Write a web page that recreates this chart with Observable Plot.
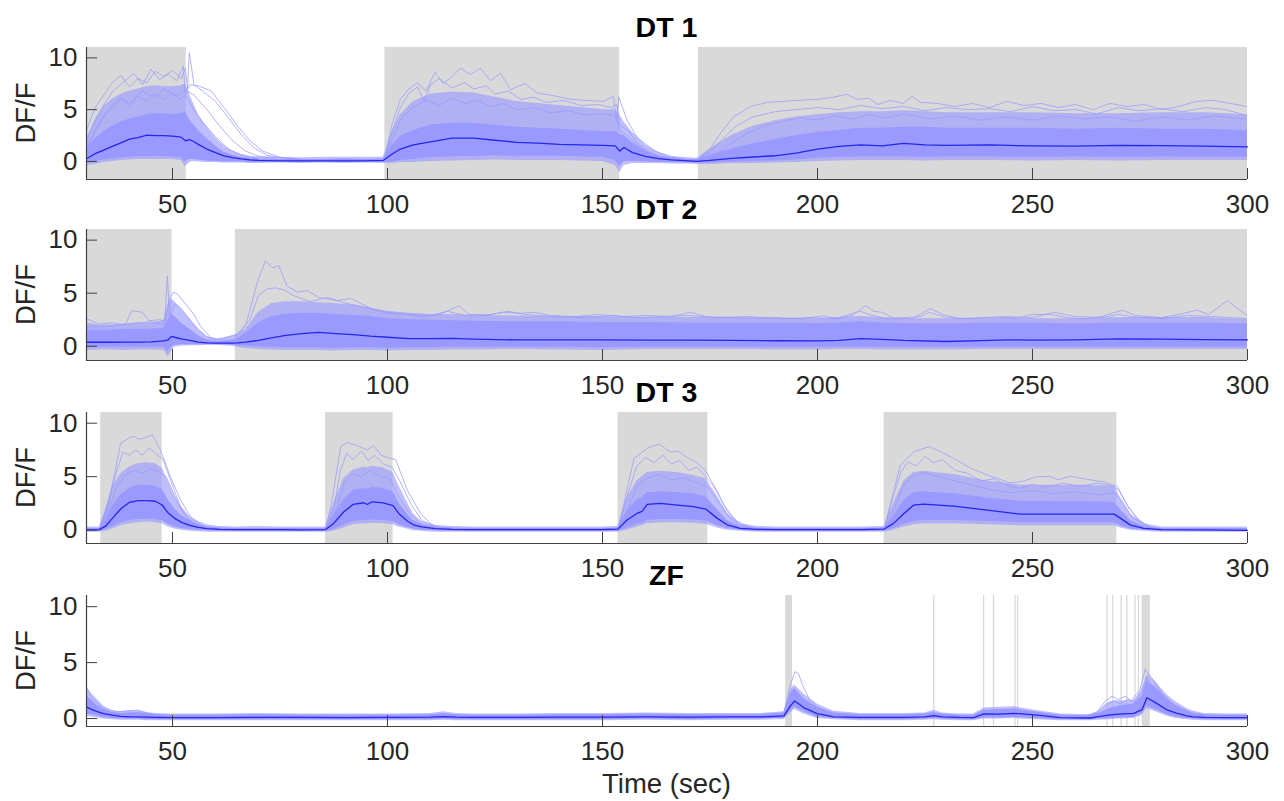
<!DOCTYPE html>
<html><head><meta charset="utf-8">
<script src="https://cdn.jsdelivr.net/npm/d3@7"></script>
<script src="https://cdn.jsdelivr.net/npm/@observablehq/plot@0.6"></script>
<style>
html,body{margin:0;padding:0;background:#fff;}
#chart{position:relative;width:1284px;height:801px;overflow:hidden;background:#fff;}
#chart svg{position:absolute;left:0;}
</style></head><body><div id="chart"></div>
<script>
// ---------------- DATA ----------------
const xTicks = [50, 100, 150, 200, 250, 300];
const yTicks = [0, 5, 10];
const titles = ["DT 1", "DT 2", "DT 3", "ZF"];
const yLabel = "DF/F";
const xLabel = "Time (sec)";

// y ranges of the four panels
const yDomain1 = [-1.74, 11];
const yDomain2 = [-1.34, 11];
const yDomain3 = [-1.25, 11];
const yDomain4 = [-0.71, 11];

// shaded stimulus periods [start, end] (sec)
const shade1 = [[30, 53.2], [99.4, 154], [172.3, 300]];
const shade2 = [[30, 49.9], [64.6, 300]];
const shade3 = [[33.3, 47.6], [85.6, 101.3], [153.6, 174.5], [215.5, 269.6]];
const shade4 = [[192.6, 194.2], [227.0, 227.3], [238.6, 238.9], [240.9, 241.2], [245.9, 246.2], [246.5, 246.8],
                [267.3, 267.6], [268.6, 268.9], [270.6, 270.9], [271.9, 272.2], [273.8, 274.1], [274.6, 274.9], [275.5, 277.4]];

// ---- DT 1 ----
const t1 = [30,32,34,36,38,40,42,44,46,48, 50,52,53,54,55,56,58,60,62,64, 66,68,70,75,80,85,90,95,99,101,
  103,106,110,115,120,125,130,135,140,145, 150,153,154,155,157,160,163,166,170,172, 175,180,185,190,195,200,205,210,215,220,
  225,230,240,250,260,270,280,290,300];
const mean1 = [0.26,0.75,1.1,1.45,1.8,2.15,2.3,2.55,2.5,2.5, 2.45,2.35,2.0,2.1,1.9,1.65,1.2,0.85,0.55,0.37,
  0.25,0.16,0.1,0.06,0.05,0.05,0.06,0.05,0.1,0.7, 1.2,1.6,1.9,2.25,2.25,2.05,1.85,1.77,1.65,1.6,
  1.55,1.5,1.0,1.35,0.85,0.5,0.27,0.15,0.05,0.0, 0.1,0.3,0.43,0.55,0.8,1.2,1.45,1.6,1.5,1.75, 1.6,1.55,1.6,1.5,1.48,1.55,1.52,1.48,1.4];
const fLo1 = [-0.4,-0.3,-0.1,0,0.1,0.15,0.2,0.2,0.2,0.2, 0.2,0.1,-0.5,-0.1,0,-0.05,-0.1,-0.1,-0.15,-0.15,
  -0.15,-0.2,-0.2,-0.15,-0.2,-0.15,-0.2,-0.15,-0.2,-0.2, -0.1,-0.1,0,0.05,0.1,0.15,0.1,0.1,0.1,0.05,
  0,-0.4,-1.1,-0.4,-0.2,-0.2,-0.2,-0.25,-0.25,-0.3, -0.3,-0.2,-0.2,-0.15,-0.1,0,0.05,0.1,0.1,0.1, 0.05,0.1,0.1,0.05,0.1,0.05,0.1,0.1,0.1];
const cLo1 = [-0.2,0,0.15,0.25,0.35,0.4,0.45,0.45,0.5,0.45, 0.45,0.35,0,0.2,0.2,0.15,0.05,0,-0.05,-0.05,
  -0.05,-0.1,-0.1,-0.05,-0.1,-0.05,-0.1,-0.05,-0.1,-0.05, 0.1,0.2,0.35,0.45,0.5,0.55,0.5,0.5,0.5,0.45,
  0.4,0.1,-0.5,0,0,-0.05,-0.1,-0.1,-0.15,-0.15, -0.15,-0.05,0,0.05,0.15,0.3,0.4,0.45,0.45,0.45, 0.4,0.45,0.45,0.4,0.45,0.4,0.45,0.4,0.4];
const cHi1 = [1.2,2.2,2.9,3.4,3.8,4.1,4.3,4.5,4.6,4.6, 4.5,4.6,4.8,4.0,3.5,3.0,2.2,1.5,0.9,0.6,
  0.4,0.3,0.25,0.2,0.2,0.2,0.25,0.2,0.25,1.5, 2.4,3.0,3.5,3.7,3.7,3.5,3.3,3.2,3.1,3.0,
  2.9,2.9,2.6,2.5,1.8,1.0,0.5,0.3,0.2,0.2, 0.6,1.2,1.7,2.1,2.5,2.8,3.0,3.2,3.2,3.3, 3.3,3.2,3.2,3.2,3.1,3.2,3.1,3.1,3.0];
const fHi1 = [2.2,4.0,5.3,6.0,6.5,6.8,7.0,7.2,7.3,7.2, 7.2,7.3,7.5,6.5,5.5,4.5,3.3,2.3,1.5,1.0,
  0.7,0.5,0.45,0.4,0.35,0.4,0.4,0.4,0.4,2.8, 4.5,5.8,6.5,6.7,6.6,6.2,5.8,5.6,5.4,5.2,
  5.0,5.0,4.5,3.8,2.8,1.6,0.9,0.5,0.35,0.3, 1.2,2.5,3.4,3.9,4.3,4.5,4.7,4.8,4.8,4.9, 4.8,4.7,4.7,4.7,4.6,4.6,4.7,4.7,4.5];
const traces1 = [
  [[30,3.0],[32,5.2],[34,6.4],[36,7.6],[38,8.3],[40,7.2],[42,8.0],[44,7.6],[46,8.7],[48,8.2],[50,8.8],[52,8.0],[53,9.0],[53.5,7.0],[53.9,10.5],[55,7.4],[57,6.8],[60,5.8],[63,4.2],[66,2.6],[69,1.3],[72,0.6],[76,0.3],[80,0.2]],
  [[30,2.0],[33,4.8],[36,6.7],[39,7.8],[41,8.5],[43,7.4],[45,8.9],[47,7.9],[49,8.4],[51,7.8],[52.5,9.2],[53,6.5],[54,7.4],[56,7.3],[59,6.8],[62,5.2],[65,3.5],[68,2.0],[71,1.0],[75,0.4],[80,0.2]],
  [[30,1.5],[33,3.6],[36,5.5],[38,6.2],[40,5.6],[43,6.8],[46,6.1],[48,7.0],[51,6.3],[53,6.9],[55,6.4],[58,5.0],[61,3.4],[64,2.0],[67,1.0],[70,0.5],[74,0.3]],
  [[30,1.0],[32,3.0],[34,4.5],[36,5.2],[38,6.0],[40,5.4],[42,6.3],[44,5.8],[46,6.6],[48,6.0],[50,6.5],[52,6.0],[53,6.4],[55,5.0],[57,3.8],[60,2.4],[63,1.2],[66,0.6],[70,0.3]],
  [[99.4,0.2],[101,3.5],[103,6.0],[105,7.0],[107,7.6],[109,6.8],[111,8.6],[113,7.5],[114.7,8.1],[117,9.0],[119.3,8.4],[121.6,9.0],[124,7.8],[126.3,8.5],[128.6,6.9],[130,7.2],[132.1,7.5],[134.8,6.6],[138,6.4],[142.6,6.0],[146,5.9],[150.3,5.8],[152.5,6.3],[153.3,4.0],[153.8,6.2],[155.7,4.0],[158,2.35],[161.9,1.06],[165.8,0.42],[170,0.15]],
  [[99.4,0.2],[101,2.8],[103,5.2],[105,6.6],[107,7.2],[108.5,5.8],[110,7.4],[112,8.0],[115,7.1],[118,7.6],[120,7.0],[123,7.3],[125,6.5],[128,6.8],[131,6.0],[134,6.2],[137,5.7],[141,5.9],[145,5.4],[149,5.5],[152,5.2],[153.3,5.5],[154,3.5],[156,3.0],[158,1.8],[161,0.9],[164,0.4]],
  [[99.4,0.2],[101,2.0],[103,4.0],[106,5.3],[109,5.9],[112,5.4],[115,6.1],[118,5.6],[121,5.9],[124,5.3],[127,5.6],[130,5.0],[134,5.2],[138,4.7],[142,4.9],[146,4.5],[150,4.6],[153,4.4],[154,3.0],[156,2.4],[159,1.3],[162,0.6],[166,0.3]],
  [[172.3,0.2],[175,1.2],[177.4,2.7],[180.5,4.3],[184.4,5.3],[188.3,5.7],[192,5.8],[196,5.9],[200,6.0],[203.7,6.2],[206.9,6.5],[209,6.0],[212,6.1],[214,5.5],[217,5.9],[220,5.6],[222,6.3],[224,5.7],[228,5.6],[232,5.3],[236,5.6],[240,5.2],[244,5.8],[248,5.4],[252,5.6],[256,5.2],[260,5.5],[264,5.0],[268,5.6],[272,5.3],[276,5.5],[280,5.0],[284,5.3],[288,5.8],[292,5.9],[296,5.6],[300,5.3]],
  [[172.3,0.2],[175,0.9],[178,2.2],[181,3.4],[185,4.3],[190,4.8],[195,5.0],[200,5.2],[205,5.0],[210,5.4],[215,5.1],[220,5.3],[225,4.9],[230,5.2],[235,5.0],[240,5.1],[245,4.8],[250,5.3],[255,4.9],[260,5.0],[265,4.6],[270,5.2],[275,4.9],[280,5.1],[285,4.8],[290,5.2],[295,5.0],[300,4.4]],
  [[172.3,0.2],[176,0.6],[180,1.8],[184,2.8],[188,3.5],[192,3.9],[196,4.2],[200,4.0],[204,4.4],[208,4.1],[212,4.5],[216,4.2],[220,4.6],[226,4.1],[232,4.4],[238,4.0],[244,4.3],[250,4.0],[256,4.4],[262,4.1],[268,4.3],[274,3.9],[280,4.3],[286,4.0],[292,4.4],[300,4.1]]
];

// ---- DT 2 ----
const t2 = [30,33,36,39,42,45,48,49,49.7,50.5, 52,54,56,58,60,62,64,65,67,70, 73,76,80,84,88,92,96,100,105,110,
  115,120,130,140,150,160,170,180,190,200, 205,210,215,220,230,240,245,250,260,270, 280,290,300];
const mean2 = [0.38,0.38,0.38,0.4,0.4,0.42,0.5,0.6,0.94,0.85, 0.7,0.55,0.4,0.32,0.3,0.3,0.3,0.32,0.4,0.55,
  0.8,1.0,1.2,1.3,1.2,1.1,0.95,0.85,0.73,0.72, 0.74,0.68,0.6,0.6,0.6,0.58,0.58,0.55,0.52,0.5,
  0.55,0.72,0.65,0.55,0.45,0.55,0.6,0.58,0.6,0.7, 0.68,0.62,0.6];
const fLo2 = [-0.4,-0.35,-0.35,-0.4,-0.35,-0.35,-0.4,-1.0,-0.5,-0.1, 0,0.05,0.05,0.1,0.1,0.05,0,-0.1,-0.2,-0.3,
  -0.35,-0.4,-0.4,-0.4,-0.45,-0.4,-0.4,-0.45,-0.4,-0.4, -0.35,-0.35,-0.3,-0.35,-0.4,-0.3,-0.3,-0.3,-0.35,-0.35,
  -0.3,-0.3,-0.35,-0.35,-0.35,-0.3,-0.3,-0.3,-0.3,-0.3, -0.3,-0.3,-0.3];
const cLo2 = [-0.15,-0.1,-0.1,-0.1,-0.1,-0.1,-0.1,-0.5,-0.1,0.1, 0.15,0.15,0.15,0.15,0.15,0.15,0.1,0.05,0,-0.05,
  -0.1,-0.15,-0.15,-0.15,-0.2,-0.15,-0.15,-0.2,-0.15,-0.15, -0.1,-0.1,-0.1,-0.1,-0.15,-0.1,-0.1,-0.1,-0.1,-0.1,
  -0.1,-0.1,-0.1,-0.1,-0.1,-0.1,-0.1,-0.1,-0.1,-0.1, -0.1,-0.1,-0.1];
const cHi2 = [1.5,1.5,1.5,1.6,1.6,1.6,1.7,2.5,3.0,2.8, 2.2,1.6,1.0,0.6,0.45,0.5,0.6,0.7,1.2,2.2,
  2.8,3.0,3.1,3.1,3.0,2.9,2.8,2.6,2.5,2.45, 2.4,2.35,2.3,2.3,2.25,2.25,2.2,2.2,2.2,2.15,
  2.2,2.3,2.2,2.15,2.1,2.2,2.2,2.2,2.1,2.2, 2.2,2.2,2.1];
const fHi2 = [2.2,2.0,2.0,2.1,2.2,2.2,2.4,4.0,4.5,4.2, 3.5,2.6,1.6,0.9,0.7,0.8,1.0,1.1,1.6,3.2,
  4.0,4.2,4.2,4.1,4.0,3.9,3.6,3.3,3.1,3.0, 3.0,2.9,2.85,2.8,2.8,2.7,2.7,2.7,2.65,2.6,
  2.7,2.8,2.7,2.6,2.6,2.6,2.7,2.6,2.6,2.7, 2.7,2.7,2.5];
const traces2 = [
  [[30,2.6],[33,2.1],[36,2.2],[39,2.0],[40.5,3.35],[43,3.2],[44.5,2.4],[47,2.5],[48.2,2.4],[48.8,6.6],[49.4,2.5],[50.5,4.0],[52,3.6],[54,2.5],[56,1.6],[58,0.9],[60,0.6]],
  [[30,1.8],[35,1.9],[40,2.1],[45,2.3],[48,2.0],[49.3,4.5],[50.3,5.1],[51.2,4.9],[53.4,3.8],[55,3.0],[56.5,1.9],[58.8,0.85],[61,0.6],[63,0.9],[65,1.1]],
  [[64.6,1.0],[67,1.9],[69.7,6.0],[71.6,8.05],[73.2,7.4],[74.7,7.6],[76.6,5.7],[79,5.1],[81.3,5.25],[84,4.6],[88,4.3],[91.4,4.5],[94,4.0],[97,3.4],[100,3.1],[104,3.0],[108,2.8],[112,3.0],[116.6,3.8],[119,3.0],[123,2.9],[127,3.2],[131,3.1],[134,3.2],[138,2.9],[144,2.8],[149,3.0],[155,2.8],[160,2.9],[166,2.8],[170.5,3.2],[174,2.8],[180,2.7],[186,2.6],[190,2.7],[196,2.6],[201.4,2.85],[205,2.6],[208,2.9],[211.2,3.85],[213,3.3],[215,3.2],[218,2.6],[222,2.6],[226.3,3.55],[229,3.0],[233,2.6],[238,2.7],[242.1,2.75],[246,2.6],[250,3.0],[254.2,3.0],[258,2.7],[262,2.6],[266,2.8],[270.9,3.4],[274,2.9],[280,2.7],[284,3.0],[288.3,3.4],[291,3.0],[295.3,4.3],[300,2.85]],
  [[64.6,0.9],[68,2.5],[70,4.8],[72,5.4],[74,5.5],[76,5.3],[78,4.8],[82,4.2],[86,4.6],[90,4.1],[95,3.6],[100,3.2],[105,3.0],[110,2.9],[114,3.3],[118,2.9],[124,3.0],[128,3.3],[132,3.0],[138,2.8],[146,2.7],[152,2.9],[158,2.7],[164,2.8],[170,2.9],[176,2.7],[184,2.8],[192,2.6],[198,2.7],[204,2.6],[210,3.3],[212,3.0],[216,2.6],[224,2.8],[226,3.2],[230,2.7],[236,2.6],[244,2.8],[250,2.7],[255,3.2],[260,2.8],[266,2.7],[270,3.0],[273,2.8],[280,2.6],[286,2.9],[292,2.8],[300,2.6]]
];

// ---- DT 3 ----
const t3 = [30,33,34.5,36,38,40,42,44,46,47.6, 49,50.5,52,54,56,58,61,65,70,75, 80,85.6,87.5,89.8,92,94.5,95.3,96.4,99,101.3,
  102.6,104.6,106,108,111,115,120,130,140,150, 153.6,155.7,158,159.2,160.4,163.5,167.4,171.2,174,176.7,
  179,182,186,190,195,200,205,210,215.5,217.7, 220.1,222.4,224.7,231.7,239.5,247.2,255,262,269,270.5, 272.8,275.9,280,290,300];
const mean3 = [0.02,0.05,0.4,1.1,2.0,2.6,2.75,2.75,2.7,2.35, 1.6,1.1,0.75,0.45,0.25,0.15,0.08,0.05,0.05,0.05,
  0.03,0.05,0.63,1.7,2.4,2.56,2.4,2.65,2.55,2.3, 1.56,0.85,0.5,0.3,0.15,0.08,0.05,0.05,0.05,0.05,
  0.1,0.94,1.56,1.75,2.4,2.5,2.34,2.2,1.97,1.1, 0.5,0.16,0.08,0.05,0.05,0.05,0.05,0.05,0.1,0.63,
  1.56,2.34,2.43,2.25,1.87,1.5,1.5,1.5,1.5,1.1, 0.47,0.16,0.05,0.03,-0.03];
const fLo3 = [-0.2,-0.2,-0.1,0.1,0.4,0.6,0.7,0.75,0.7,0.6, 0.3,0.1,0,-0.1,-0.15,-0.2,-0.2,-0.2,-0.2,-0.2,
  -0.2,-0.2,-0.1,0.2,0.5,0.6,0.6,0.65,0.6,0.5, 0.3,0.1,-0.05,-0.1,-0.2,-0.2,-0.2,-0.2,-0.2,-0.2,
  -0.2,0,0.3,0.4,0.6,0.7,0.7,0.65,0.55,0.2, 0,-0.1,-0.2,-0.2,-0.2,-0.2,-0.2,-0.2,-0.2,0,
  0.3,0.5,0.6,0.6,0.5,0.4,0.4,0.4,0.4,0.2, 0,-0.1,-0.2,-0.2,-0.2];
const cLo3 = [-0.1,-0.1,0.05,0.35,0.7,0.9,1.0,1.05,1.0,0.9, 0.55,0.3,0.15,0.05,0,-0.05,-0.1,-0.1,-0.1,-0.1,
  -0.1,-0.1,0.05,0.45,0.8,0.9,0.9,0.95,0.9,0.8, 0.5,0.25,0.1,0,-0.05,-0.1,-0.1,-0.1,-0.1,-0.1,
  -0.1,0.2,0.55,0.65,0.9,1.0,1.0,0.95,0.85,0.4, 0.15,0,-0.1,-0.1,-0.1,-0.1,-0.1,-0.1,-0.1,0.15,
  0.55,0.8,0.9,0.9,0.8,0.7,0.7,0.7,0.7,0.4, 0.1,0,-0.1,-0.1,-0.1];
const cHi3 = [0.15,0.15,1.0,2.2,3.3,3.9,4.2,4.2,4.1,3.8, 2.8,2.0,1.4,0.9,0.5,0.3,0.2,0.15,0.15,0.15,
  0.15,0.15,1.4,2.8,3.7,3.9,3.8,4.0,3.9,3.6, 2.6,1.5,0.9,0.5,0.3,0.2,0.15,0.15,0.15,0.15,
  0.2,1.8,2.8,3.0,3.5,3.6,3.5,3.4,3.1,1.9, 0.9,0.35,0.2,0.15,0.15,0.15,0.15,0.15,0.2,1.3,
  2.8,3.5,3.6,3.4,3.0,2.7,2.65,2.65,2.6,1.9, 0.9,0.35,0.15,0.15,0.15];
const fHi3 = [0.3,0.3,2.0,4.0,5.3,5.9,6.2,6.3,6.2,5.8, 4.5,3.2,2.2,1.3,0.8,0.5,0.35,0.3,0.35,0.3,
  0.3,0.3,2.5,4.8,5.6,5.9,5.8,6.0,5.8,5.4, 4.2,2.6,1.5,0.8,0.45,0.35,0.3,0.3,0.3,0.3,
  0.35,3.0,4.6,5.0,5.4,5.5,5.4,5.1,4.8,3.2, 1.6,0.6,0.35,0.3,0.3,0.3,0.3,0.3,0.35,2.5,
  4.6,5.4,5.5,5.2,4.6,4.2,4.2,4.2,4.1,3.0, 1.5,0.6,0.3,0.3,0.3];
const traces3 = [
  [[33,0.1],[34.5,1.5],[36.4,5.0],[37.9,8.1],[39.8,8.6],[41,8.8],[42,8.5],[43.3,8.6],[45.3,8.9],[47.2,7.5],[49.5,5.0],[51.9,2.8],[54.2,1.25],[56.5,0.47],[59,0.2]],
  [[33,0.1],[35,2.5],[37,5.5],[38.5,7.3],[40,7.0],[41.5,7.5],[43,7.0],[44.5,7.7],[46,7.2],[47.8,6.6],[49.8,4.4],[51.8,2.2],[54,0.9],[56,0.4],[58,0.2]],
  [[33,0.1],[35,1.8],[37,4.0],[39,5.2],[41,5.6],[43,5.3],[45,5.8],[47,5.4],[48.5,5.0],[50.5,3.2],[52.5,1.6],[55,0.6],[58,0.2]],
  [[85.6,0.1],[87,2.5],[89.1,7.8],[90.6,8.2],[92.9,7.9],[95.3,7.5],[96.8,7.9],[98.5,7.0],[99.9,6.8],[101.9,6.6],[104.6,3.75],[107.7,1.56],[110,0.6],[112,0.2]],
  [[85.6,0.1],[87.5,2.0],[89,5.5],[90.5,7.2],[92,6.6],[94,7.4],[95.5,6.5],[97,7.0],[99,6.2],[101,5.9],[103,4.5],[105.5,2.4],[108,0.9],[111,0.3]],
  [[85.6,0.1],[88,1.8],[90,4.5],[92,5.3],[94,5.0],[96,5.6],[98,5.1],[100.5,4.8],[102.5,3.2],[105,1.6],[108,0.5],[111,0.2]],
  [[153.6,0.1],[155,2.5],[157.3,6.7],[160.4,7.65],[163.1,8.06],[165.8,7.3],[167.5,7.4],[169.3,6.9],[171.6,6.4],[173.9,5.6],[176.7,3.6],[179,1.75],[182,0.5],[185,0.2]],
  [[153.6,0.1],[156,3.5],[158,6.0],[160,6.8],[162,6.3],[164,7.0],[166,6.2],[168,6.5],[170,5.6],[172,5.9],[174,5.0],[176,4.0],[178.5,2.2],[181,0.9],[184,0.3]],
  [[153.6,0.1],[156,2.0],[158,4.2],[160,4.8],[163,5.2],[166,4.7],[169,4.9],[172,4.4],[174.5,4.0],[177,2.6],[179.5,1.2],[182,0.4]],
  [[215.5,0.1],[217,2.5],[219.3,6.1],[222.4,7.34],[225.9,7.8],[227.8,7.5],[231.7,6.7],[235.6,5.8],[239.5,5.15],[244.9,4.4],[248,4.6],[251,5.0],[254.2,5.0],[256,4.7],[258.8,5.05],[262,4.8],[266.6,4.5],[269.7,4.1],[272,2.34],[274.4,1.1],[277,0.3],[280,0.1]],
  [[215.5,0.1],[217.5,3.0],[219.5,5.5],[221,6.4],[223,6.0],[225,6.9],[227,6.3],[229,6.6],[232,5.6],[235,5.3],[238,4.6],[241,4.8],[244,4.2],[247,3.9],[250,4.3],[253,4.0],[257,4.4],[261,4.1],[265,4.4],[268,4.2],[270,3.8],[272.5,2.0],[275,0.8],[278,0.2]],
  [[215.5,0.1],[218,2.2],[220,4.2],[222,5.0],[225,5.4],[228,5.0],[232,4.6],[236,4.2],[240,3.8],[245,3.5],[250,3.7],[255,3.4],[260,3.6],[265,3.3],[269,3.5],[271,2.6],[273,1.3],[276,0.4]]
];

// ---- ZF ----
const t4 = [30,31,32.5,34,36,38,40,42,44,46, 50,60,70,80,90,100,110,113,116,120, 130,140,150,160,170,180,186.7,190,192.2,193.7,
  194.7,196.8,199.9,203.8,210,220,225,227,229,233, 236.3,238.7,242,245.8,250.5,256.5,263.5,265,268.1,270,
  273.5,275.5,276.6,278.6,281.3,283.3,285.9,287.4,290,295, 300];
const mean4 = [1.04,0.85,0.62,0.45,0.3,0.2,0.15,0.15,0.12,0.1, 0.09,0.08,0.1,0.1,0.08,0.1,0.12,0.18,0.12,0.1,
  0.1,0.12,0.12,0.15,0.12,0.15,0.15,0.2,0.24,1.13, 1.57,0.98,0.44,0.15,0.1,0.1,0.15,0.27,0.15,0.1,
  0.09,0.41,0.4,0.47,0.33,0.09,0.05,0.15,0.33,0.4, 0.47,0.8,1.86,1.42,0.77,0.5,0.24,0.15,0.1,0.09, 0.09];
const fLo4 = [0.2,0.15,0.05,-0.05,-0.1,-0.15,-0.15,-0.15,-0.2,-0.2, -0.2,-0.2,-0.2,-0.2,-0.2,-0.2,-0.2,-0.15,-0.2,-0.2,
  -0.2,-0.2,-0.2,-0.15,-0.2,-0.15,-0.15,-0.1,-0.1,0.5, 0.8,0.4,0,-0.1,-0.2,-0.2,-0.15,-0.1,-0.15,-0.2,
  -0.2,-0.05,-0.05,0,-0.1,-0.2,-0.2,-0.15,-0.1,-0.05, 0,0.3,0.9,0.6,0.2,0,-0.1,-0.15,-0.2,-0.2, -0.2];
const cLo4 = [0.4,0.35,0.25,0.1,0,-0.05,-0.05,-0.05,-0.1,-0.1, -0.1,-0.1,-0.1,-0.1,-0.1,-0.1,-0.1,-0.05,-0.1,-0.1,
  -0.1,-0.1,-0.1,-0.05,-0.1,-0.05,-0.05,0,0,0.7, 1.0,0.6,0.15,0,-0.1,-0.1,-0.05,0,-0.05,-0.1,
  -0.1,0.05,0.05,0.1,0,-0.1,-0.1,-0.05,0,0.05, 0.1,0.45,1.1,0.8,0.35,0.15,0,-0.05,-0.1,-0.1, -0.1];
const cHi4 = [2.0,1.7,1.2,0.8,0.55,0.45,0.5,0.55,0.45,0.35, 0.3,0.3,0.35,0.3,0.3,0.3,0.35,0.45,0.35,0.3,
  0.3,0.35,0.35,0.4,0.35,0.35,0.35,0.45,0.5,2.2, 2.7,1.8,1.0,0.5,0.35,0.35,0.4,0.55,0.4,0.3,
  0.3,0.75,0.8,0.85,0.6,0.3,0.25,0.4,0.9,1.1, 1.3,2.0,3.4,2.8,1.7,1.2,0.7,0.5,0.35,0.3, 0.3];
const fHi4 = [2.8,2.3,1.7,1.1,0.7,0.6,0.7,0.7,0.55,0.45, 0.4,0.4,0.45,0.4,0.4,0.4,0.45,0.6,0.45,0.4,
  0.4,0.45,0.45,0.5,0.45,0.45,0.45,0.55,0.6,2.6, 3.0,2.2,1.3,0.65,0.45,0.45,0.5,0.75,0.5,0.4,
  0.4,0.95,1.0,1.05,0.75,0.4,0.35,0.55,1.5,1.6, 1.6,2.5,3.8,3.3,2.1,1.5,0.9,0.65,0.45,0.4, 0.4];
const traces4 = [
  [[30,2.75],[31,2.0],[32.5,1.4],[34,0.9],[37,0.6],[40,0.7],[42,0.75],[44,0.5],[47,0.3]],
  [[190,0.3],[192.2,0.5],[193.5,2.8],[194.8,4.2],[195.6,4.0],[196.5,3.0],[198,1.8],[200,1.0],[203,0.5],[206,0.3]],
  [[262,0.2],[265,0.6],[267,1.6],[268.5,2.0],[270,1.7],[271.5,2.0],[273,1.6],[275,2.6],[276.2,4.4],[277,4.0],[278.5,3.2],[280.5,2.0],[283,1.1],[286,0.6],[289,0.3]],
  [[262,0.2],[265,0.5],[267,1.3],[269,1.6],[270.5,1.3],[272,1.7],[274,1.5],[275.8,3.0],[276.8,3.9],[278,3.5],[280,2.3],[283,1.2],[287,0.5]]
];

// ---------------- DRAWING ----------------
const FONT = "'Liberation Sans', Arial, Helvetica, sans-serif";
const GRAY = "#d9d9d9", BAND = "#9999ff", MEAN = "#2626ee", AXIS = "#404040", TEXT = "#262626";
const panels = [
  {t: t1, mean: mean1, fLo: fLo1, cLo: cLo1, cHi: cHi1, fHi: fHi1, traces: traces1, shades: shade1, yDomain: yDomain1, top: 47, bottom: 179},
  {t: t2, mean: mean2, fLo: fLo2, cLo: cLo2, cHi: cHi2, fHi: fHi2, traces: traces2, shades: shade2, yDomain: yDomain2, top: 229, bottom: 360},
  {t: t3, mean: mean3, fLo: fLo3, cLo: cLo3, cHi: cHi3, fHi: fHi3, traces: traces3, shades: shade3, yDomain: yDomain3, top: 412, bottom: 543},
  {t: t4, mean: mean4, fLo: fLo4, cLo: cLo4, cHi: cHi4, fHi: fHi4, traces: traces4, shades: shade4, yDomain: yDomain4, top: 595, bottom: 726}
];
const chart = document.getElementById("chart");
const W = 1284, ML = 86, MR = 37, MT = 12, MB = 50;
const innerW = W - ML - MR;

panels.forEach((p) => {
  const band = p.t.map((t, i) => ({t, fLo: p.fLo[i], fHi: p.fHi[i], cLo: p.cLo[i], cHi: p.cHi[i], m: p.mean[i]}));
  const lines = p.traces.flatMap((tr, k) => tr.map(([t, v]) => ({t, v, k})));
  const [y0, y1] = p.yDomain;
  const innerH = p.bottom - p.top;
  const svg = Plot.plot({
    width: W, height: innerH + MT + MB,
    marginLeft: ML, marginRight: MR, marginTop: MT, marginBottom: MB,
    x: {domain: [30, 300]},
    y: {domain: [y0, y1]},
    style: {fontFamily: FONT, fontSize: "26px", color: TEXT, background: "transparent", overflow: "visible"},
    marks: [
      Plot.rect(p.shades, {x1: d => d[0], x2: d => d[1], y1: () => y0, y2: () => y1, fill: GRAY}),
      Plot.areaY(band, {x: "t", y1: "fLo", y2: "fHi", fill: BAND, fillOpacity: 0.65}),
      Plot.areaY(band, {x: "t", y1: "cLo", y2: "cHi", fill: BAND, fillOpacity: 1}),
      Plot.line(lines, {x: "t", y: "v", z: "k", stroke: BAND, strokeOpacity: 0.75, strokeWidth: 1, clip: true}),
      Plot.line(band, {x: "t", y: "m", stroke: MEAN, strokeWidth: 1.3}),
      Plot.tickX(xTicks, {x: d => d, insetTop: innerH - 11, stroke: AXIS, strokeWidth: 1}),
      Plot.tickY(yTicks, {y: d => d, insetRight: innerW - 11, stroke: AXIS, strokeWidth: 1}),
      Plot.ruleX([30], {stroke: AXIS, strokeWidth: 1.2}),
      Plot.ruleY([y0], {stroke: AXIS, strokeWidth: 1.2}),
      Plot.axisX({ticks: xTicks, tickSize: 0, tickPadding: 15, tickFormat: d => String(d), label: null, fill: TEXT}),
      Plot.axisY({ticks: yTicks, tickSize: 0, tickPadding: 9, tickFormat: d => String(d), label: null, fill: TEXT})
    ]
  });
  svg.style.top = (p.top - MT) + "px";
  chart.append(svg);
});

// titles and axis labels
const ov = d3.create("svg").attr("width", W).attr("height", 801)
  .style("position", "absolute").style("top", "0px").style("left", "0px")
  .attr("font-family", FONT).attr("fill", "#000");
const cx = ML + innerW / 2;
panels.forEach((p, i) => {
  ov.append("text").attr("x", cx).attr("y", p.top - 10.3).attr("text-anchor", "middle")
    .attr("font-size", 28.5).attr("font-weight", "bold").attr("fill", "#000").text(titles[i]);
  ov.append("text").attr("transform", `translate(35,${(p.top + p.bottom) / 2}) rotate(-90)`)
    .attr("text-anchor", "middle").attr("font-size", 27.5).attr("fill", TEXT).text(yLabel);
});
ov.append("text").attr("x", cx).attr("y", 793).attr("text-anchor", "middle")
  .attr("font-size", 27.5).attr("fill", TEXT).text(xLabel);
chart.append(ov.node());
</script></body></html>
